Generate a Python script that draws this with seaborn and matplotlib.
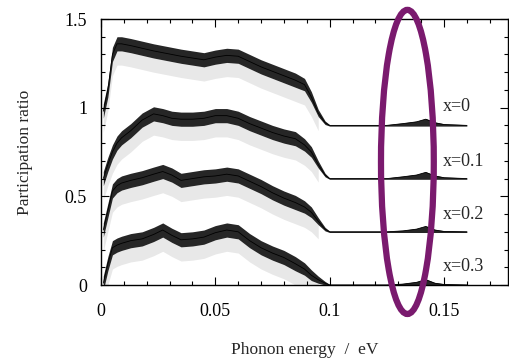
import numpy as np
import pandas as pd
import matplotlib
matplotlib.use("Agg")
import matplotlib.pyplot as plt
import seaborn as sns
from matplotlib.patches import Ellipse
from matplotlib.ticker import MultipleLocator

# ---- data ----
energy = [0.001, 0.003, 0.005, 0.007, 0.009, 0.013, 0.018, 0.023, 0.027, 0.031,
          0.035, 0.040, 0.045, 0.050, 0.055, 0.060, 0.065, 0.070, 0.075, 0.080,
          0.085, 0.089, 0.092, 0.095, 0.098, 0.100, 0.110, 0.125, 0.132, 0.138,
          0.142, 0.146, 0.150, 0.160]

pr_x00 = [0.98, 1.10, 1.30, 1.36, 1.36, 1.35, 1.335, 1.32, 1.31, 1.30,
          1.29, 1.28, 1.27, 1.285, 1.295, 1.29, 1.26, 1.23, 1.205, 1.18,
          1.155, 1.13, 1.06, 0.97, 0.915, 0.90, 0.90, 0.90, 0.91, 0.92,
          0.935, 0.915, 0.905, 0.90]
pr_x01 = [0.60, 0.68, 0.75, 0.80, 0.83, 0.87, 0.93, 0.965, 0.955, 0.94,
          0.935, 0.935, 0.94, 0.955, 0.955, 0.94, 0.91, 0.885, 0.86, 0.84,
          0.825, 0.79, 0.75, 0.68, 0.62, 0.60, 0.60, 0.60, 0.61, 0.62,
          0.635, 0.615, 0.605, 0.60]
pr_x02 = [0.31, 0.42, 0.53, 0.56, 0.575, 0.59, 0.605, 0.625, 0.64, 0.62,
          0.59, 0.60, 0.61, 0.615, 0.625, 0.615, 0.585, 0.555, 0.52, 0.49,
          0.465, 0.44, 0.41, 0.36, 0.315, 0.30, 0.30, 0.30, 0.305, 0.315,
          0.33, 0.31, 0.302, 0.30]
pr_x03 = [0.01, 0.12, 0.21, 0.225, 0.235, 0.25, 0.26, 0.285, 0.31, 0.28,
          0.255, 0.26, 0.27, 0.295, 0.31, 0.30, 0.25, 0.21, 0.18, 0.155,
          0.12, 0.09, 0.055, 0.03, 0.01, 0.0, 0.0, 0.0, 0.005, 0.015,
          0.03, 0.01, 0.003, 0.0]
band_width = [0.04, 0.04, 0.04, 0.04, 0.04, 0.04, 0.04, 0.04, 0.04, 0.04,
              0.04, 0.04, 0.04, 0.04, 0.04, 0.04, 0.04, 0.04, 0.04, 0.04,
              0.04, 0.035, 0.03, 0.02, 0.01, 0.004, 0.004, 0.004, 0.004, 0.004,
              0.004, 0.004, 0.004, 0.004]
offsets = [0.9, 0.6, 0.3, 0.0]
labels = ["x=0", "x=0.1", "x=0.2", "x=0.3"]
series = [pr_x00, pr_x01, pr_x02, pr_x03]

x_ticks = [0, 0.05, 0.1, 0.15]
x_ticklabels = ["0", "0.05", "0.1", "0.15"]
y_ticks = [0, 0.5, 1, 1.5]
y_ticklabels = ["0", "0.5", "1", "1.5"]

# ---- plotting ----
sns.set_style("ticks")
plt.rcParams["font.family"] = ["Liberation Serif", "DejaVu Serif"]
plt.rcParams["font.size"] = 13

fig = plt.figure(figsize=(5.09, 3.62), dpi=100)
ax = fig.add_axes([101 / 509, 1 - 285 / 362, 407 / 509, 266 / 362])

E = np.array(energy)
W = np.array(band_width)
rows = []
for lab, vals in zip(labels, series):
    for e, v in zip(energy, vals):
        rows.append({"E": e, "P": v, "x": lab})
df = pd.DataFrame(rows)

for lab, vals, off in zip(labels, series, offsets):
    P = np.array(vals)
    upper = P + W
    lower = np.where(E >= 0.1, off - 0.004, P - W)
    # scattered fringe below the dense core
    fr_mask = E <= 0.095
    ax.fill_between(E[fr_mask], lower[fr_mask] - 0.08, lower[fr_mask],
                    color="black", alpha=0.09, linewidth=0)
    ax.fill_between(E, lower, upper, color="black", alpha=0.85, linewidth=0)

sns.lineplot(data=df, x="E", y="P", hue="x", palette=["black"] * 4,
             linewidth=0.6, legend=False, ax=ax, sort=False)

ax.set_xlim(0, 0.178)
ax.set_ylim(0, 1.5)
ax.set_xticks(x_ticks)
ax.set_xticklabels(x_ticklabels)
ax.set_yticks(y_ticks)
ax.set_yticklabels(y_ticklabels)
ax.xaxis.set_minor_locator(MultipleLocator(0.01))
ax.yaxis.set_minor_locator(MultipleLocator(0.1))
ax.tick_params(which="both", direction="in", top=True, right=True,
               colors="black", width=0.8)
ax.tick_params(which="major", length=6)
ax.tick_params(which="minor", length=3)
ax.tick_params(axis="x", pad=13, labelsize=13)
ax.tick_params(axis="y", pad=10, labelsize=13)
for s in ax.spines.values():
    s.set_visible(True)
    s.set_color("black")
    s.set_linewidth(1.0)

ax.set_xlabel("Phonon energy  /  eV", fontsize=12.5, labelpad=16)
ax.set_ylabel("Participation ratio", fontsize=12.5, labelpad=23)

label_y = [1.004, 0.694, 0.40, 0.107]
for lab, ly in zip(labels, label_y):
    ax.text(0.1493, ly, lab, fontsize=13, va="center", ha="left")

ell = Ellipse((0.134, 0.694), width=0.0231, height=1.715, fill=False,
              edgecolor="#7a1a6e", linewidth=4.5, clip_on=False, zorder=5)
ax.add_patch(ell)

fig.savefig("out.png", dpi=100)
